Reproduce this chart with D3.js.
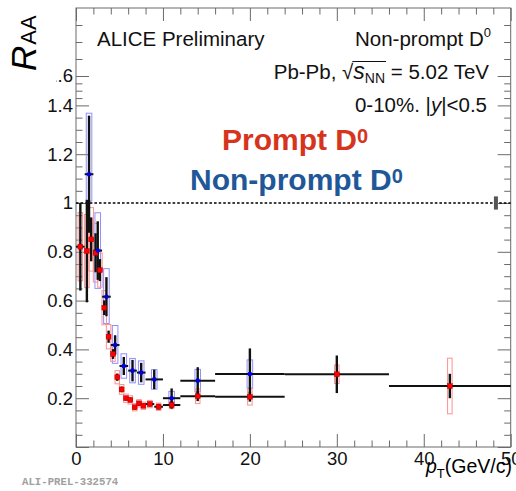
<!DOCTYPE html>
<html>
<head>
<meta charset="utf-8">
<script src="https://cdn.jsdelivr.net/npm/d3@7"></script>
<style>
  html, body { margin: 0; padding: 0; background: #fff; }
  svg { display: block; font-family: "Liberation Sans", Arial, Helvetica, sans-serif; }
</style>
</head>
<body>
<svg id="chart" width="516" height="491"></svg>
<script>
// ---- Prompt D0 R_AA (0-10%) ----
const promptPt     = [0.5, 1.25, 1.75, 2.25, 2.75, 3.25, 3.75, 4.25, 4.75, 5.25, 5.75, 6.25, 6.75, 7.25, 7.75, 8.5, 9.5, 11, 14, 20, 30, 43];
const promptPtLow  = [0, 1, 1.5, 2, 2.5, 3, 3.5, 4, 4.5, 5, 5.5, 6, 6.5, 7, 7.5, 8, 9, 10, 12, 16, 24, 36];
const promptPtHigh = [1, 1.5, 2, 2.5, 3, 3.5, 4, 4.5, 5, 5.5, 6, 6.5, 7, 7.5, 8, 9, 10, 12, 16, 24, 36, 50];
const promptRaa    = [0.821, 0.803, 0.851, 0.796, 0.725, 0.571, 0.452, 0.381, 0.286, 0.236, 0.200, 0.193, 0.163, 0.179, 0.169, 0.176, 0.165, 0.172, 0.208, 0.206, 0.298, 0.250];
const promptStat   = [0.18, 0.21, 0.09, 0.08, 0.045, 0.03, 0.025, 0.02, 0.015, 0.012, 0.01, 0.01, 0.01, 0.01, 0.01, 0.01, 0.012, 0.015, 0.02, 0.02, 0.077, 0.05];
const promptSyst   = [0.14, 0.15, 0.13, 0.12, 0.07, 0.07, 0.05, 0.03, 0.027, 0.02, 0.017, 0.017, 0.015, 0.015, 0.015, 0.015, 0.015, 0.015, 0.03, 0.034, 0.038, 0.114];

// ---- Non-prompt D0 R_AA (0-10%) ----
const nonpromptPt       = [1.5, 2.5, 3.5, 4.5, 5.5, 6.5, 7.5, 9, 11, 14, 20];
const nonpromptPtLow    = [1, 2, 3, 4, 5, 6, 7, 8, 10, 12, 16];
const nonpromptPtHigh   = [2, 3, 4, 5, 6, 7, 8, 10, 12, 16, 24];
const nonpromptRaa      = [1.118, 0.805, 0.616, 0.418, 0.332, 0.313, 0.305, 0.277, 0.200, 0.272, 0.299];
const nonpromptStat     = [0.24, 0.12, 0.08, 0.04, 0.037, 0.044, 0.04, 0.04, 0.04, 0.055, 0.105];
const nonpromptSystHigh = [0.25, 0.155, 0.115, 0.08, 0.05, 0.05, 0.048, 0.04, 0.028, 0.046, 0.058];
const nonpromptSystLow  = [0.11, 0.155, 0.11, 0.075, 0.05, 0.05, 0.048, 0.04, 0.028, 0.046, 0.058];

// global normalisation uncertainty drawn at R_AA = 1
const normPt  = 48.3;
const normUnc = 0.027;

// axis ticks
const xTickValues  = [0, 10, 20, 30, 40, 50];
const xMinorValues = [2, 4, 6, 8, 12, 14, 16, 18, 22, 24, 26, 28, 32, 34, 36, 38, 42, 44, 46, 48];
const yTickValues  = [0, 0.2, 0.4, 0.6, 0.8, 1.0, 1.2, 1.4, 1.6];
const yTickLabels  = ["", "0.2", "0.4", "0.6", "0.8", "1", "1.2", "1.4", "1.6"];
const yMinorValues = [0.05, 0.1, 0.15, 0.25, 0.3, 0.35, 0.45, 0.5, 0.55, 0.65, 0.7, 0.75, 0.85, 0.9, 0.95,
                      1.05, 1.1, 1.15, 1.25, 1.3, 1.35, 1.45, 1.5, 1.55, 1.65, 1.7, 1.75];

// ---- drawing ----
const svg = d3.select("#chart");
const frameLeft = 76, frameRight = 510.7, frameTop = 8, frameBottom = 447;

const x = d3.scaleLinear().domain([0, 50]).range([frameLeft, frameRight]);
// the upper part of the frame (above 1.4) is compressed
const y = d3.scaleLinear().domain([0, 1.4, 1.6, 1.8]).range([frameBottom, 105.4, 76, frameTop]);

const axisColor = "#6a6a6a";
const majorLen = 13, minorLen = 6.5;

function styleAxis(g) {
  g.select(".domain").remove();
  g.selectAll(".tick line").attr("stroke", axisColor).attr("stroke-width", 1);
  g.selectAll(".tick text").attr("fill", "#111").attr("font-size", 18.5)
    .attr("font-family", '"Liberation Sans", Arial, sans-serif');
}

// left axis (labels) and right axis
svg.append("g").attr("transform", `translate(${frameLeft},0)`)
  .call(d3.axisLeft(y).tickValues(yTickValues).tickSize(-majorLen).tickPadding(3)
        .tickFormat((d, i) => yTickLabels[i])).call(styleAxis);
svg.append("g").attr("transform", `translate(${frameLeft},0)`)
  .call(d3.axisLeft(y).tickValues(yMinorValues).tickSize(-minorLen).tickFormat("")).call(styleAxis);
svg.append("g").attr("transform", `translate(${frameRight},0)`)
  .call(d3.axisRight(y).tickValues(yTickValues).tickSize(-majorLen).tickFormat("")).call(styleAxis);
svg.append("g").attr("transform", `translate(${frameRight},0)`)
  .call(d3.axisRight(y).tickValues(yMinorValues).tickSize(-minorLen).tickFormat("")).call(styleAxis);

// bottom and top axes
svg.append("g").attr("transform", `translate(0,${frameBottom})`)
  .call(d3.axisBottom(x).tickValues(xTickValues).tickSize(-majorLen).tickPadding(5)
        .tickFormat(d3.format("d"))).call(styleAxis);
svg.append("g").attr("transform", `translate(0,${frameBottom})`)
  .call(d3.axisBottom(x).tickValues(xMinorValues).tickSize(-minorLen).tickFormat("")).call(styleAxis);
svg.append("g").attr("transform", `translate(0,${frameTop})`)
  .call(d3.axisTop(x).tickValues(xTickValues).tickSize(-majorLen).tickFormat("")).call(styleAxis);
svg.append("g").attr("transform", `translate(0,${frameTop})`)
  .call(d3.axisTop(x).tickValues(xMinorValues).tickSize(-minorLen).tickFormat("")).call(styleAxis);

// frame
svg.append("rect").attr("x", frameLeft).attr("y", frameTop)
  .attr("width", frameRight - frameLeft).attr("height", frameBottom - frameTop)
  .attr("fill", "none").attr("stroke", axisColor).attr("stroke-width", 1);

// reference line at unity
svg.append("line")
  .attr("x1", x(0)).attr("x2", x(50)).attr("y1", y(1)).attr("y2", y(1))
  .attr("stroke", "#000").attr("stroke-width", 1.4).attr("stroke-dasharray", "2.6,2");

// normalisation box
svg.append("rect")
  .attr("x", x(normPt) - 2).attr("width", 4)
  .attr("y", y(1 + normUnc)).attr("height", y(1 - normUnc) - y(1 + normUnc))
  .attr("fill", "#555");

// ---- data series ----
const prompt = promptPt.map((pt, i) => ({
  pt, lo: promptPtLow[i], hi: promptPtHigh[i], v: promptRaa[i],
  stat: promptStat[i], sHi: promptSyst[i], sLo: promptSyst[i]
}));
const nonprompt = nonpromptPt.map((pt, i) => ({
  pt, lo: nonpromptPtLow[i], hi: nonpromptPtHigh[i], v: nonpromptRaa[i],
  stat: nonpromptStat[i], sHi: nonpromptSystHigh[i], sLo: nonpromptSystLow[i]
}));

const boxHalfPrompt = 0.26, boxHalfNonprompt = 0.32;

function drawBoxes(data, half, color) {
  svg.append("g").selectAll("rect").data(data).join("rect")
    .attr("x", d => x(d.pt - half)).attr("width", d => x(d.pt + half) - x(d.pt - half))
    .attr("y", d => y(d.v + d.sHi)).attr("height", d => y(d.v - d.sLo) - y(d.v + d.sHi))
    .attr("fill", "none").attr("stroke", color).attr("stroke-width", 1);
}
function drawBars(data) {
  const g = svg.append("g");
  g.selectAll("line.v").data(data).join("line").attr("class", "v")
    .attr("x1", d => x(d.pt)).attr("x2", d => x(d.pt))
    .attr("y1", d => y(d.v + d.stat)).attr("y2", d => y(d.v - d.stat))
    .attr("stroke", "#111").attr("stroke-width", 2.4);
  g.selectAll("line.h").data(data).join("line").attr("class", "h")
    .attr("x1", d => x(d.lo)).attr("x2", d => x(d.hi))
    .attr("y1", d => y(d.v)).attr("y2", d => y(d.v))
    .attr("stroke", "#111").attr("stroke-width", 2);
}

drawBoxes(nonprompt, boxHalfNonprompt, "#8f8fff");
drawBoxes(prompt, boxHalfPrompt, "#ff9090");
drawBars(nonprompt);
drawBars(prompt);

// markers
svg.append("g").selectAll("rect").data(prompt).join("rect")
  .attr("x", d => x(d.pt) - 2.4).attr("y", d => y(d.v) - 2.4)
  .attr("width", 4.8).attr("height", 4.8)
  .attr("fill", "#ff0000").attr("stroke", "#b00000").attr("stroke-width", 0.5);
svg.append("g").selectAll("circle").data(nonprompt).join("circle")
  .attr("cx", d => x(d.pt)).attr("cy", d => y(d.v)).attr("r", 2.3)
  .attr("fill", "#0000dd");

// ---- y title ----
svg.append("rect").attr("x", 0).attr("y", 22).attr("width", 56.5).attr("height", 66).attr("fill", "#fff");
const yTitle = svg.append("text")
  .attr("transform", "translate(36,71) rotate(-90)")
  .attr("fill", "#000");
yTitle.append("tspan").attr("font-size", 35).attr("font-style", "italic").text("R");
yTitle.append("tspan").attr("font-size", 22).attr("dx", 1).text("AA");

// ---- x title ----
const xTitle = svg.append("text").attr("x", 512).attr("y", 473)
  .attr("text-anchor", "end").attr("font-size", 19.5).attr("fill", "#000");
xTitle.append("tspan").attr("font-style", "italic").text("p");
xTitle.append("tspan").attr("font-size", 13).attr("dy", 5).text("T");
xTitle.append("tspan").attr("dy", -5).text("(GeV/c)");

// ---- labels ----
svg.append("text").attr("x", 97).attr("y", 46).attr("font-size", 20.5).attr("fill", "#111")
  .text("ALICE Preliminary");

const np = svg.append("text").attr("x", 491).attr("y", 46).attr("text-anchor", "end")
  .attr("font-size", 20.5).attr("fill", "#111");
np.append("tspan").text("Non-prompt D");
np.append("tspan").attr("font-size", 13).attr("dy", -9).text("0");

const sys = svg.append("text").attr("x", 489).attr("y", 79).attr("text-anchor", "end")
  .attr("font-size", 20.5).attr("fill", "#111");
sys.append("tspan").text("Pb-Pb, \u221A");
sys.append("tspan").attr("font-style", "italic").attr("font-size", 23).text("s");
sys.append("tspan").attr("font-size", 14).attr("dy", 4).text("NN");
sys.append("tspan").attr("dy", -4).text(" = 5.02 TeV");
// overline of the square root
{
  const node = sys.node();
  const r = node.getExtentOfChar(7), e = node.getExtentOfChar(10);
  svg.append("line")
    .attr("x1", r.x + r.width - 1).attr("x2", e.x + e.width + 1)
    .attr("y1", 61.5).attr("y2", 61.5)
    .attr("stroke", "#111").attr("stroke-width", 1.1);
}

const cen = svg.append("text").attr("x", 487).attr("y", 112).attr("text-anchor", "end")
  .attr("font-size", 20.5).attr("fill", "#111");
cen.append("tspan").text("0-10%. |");
cen.append("tspan").attr("font-style", "italic").text("y");
cen.append("tspan").text("|<0.5");

const lp = svg.append("text").attr("x", 222).attr("y", 150).attr("font-size", 30)
  .attr("font-weight", "bold").attr("fill", "#d6341c");
lp.append("tspan").text("Prompt D");
lp.append("tspan").attr("font-size", 20).attr("dy", -7).text("0");

const ln = svg.append("text").attr("x", 190).attr("y", 190).attr("font-size", 30)
  .attr("font-weight", "bold").attr("fill", "#1f5898");
ln.append("tspan").text("Non-prompt D");
ln.append("tspan").attr("font-size", 20).attr("dy", -7).text("0");

svg.append("text").attr("x", 22).attr("y", 485)
  .attr("font-family", '"Liberation Mono", "DejaVu Sans Mono", monospace')
  .attr("font-size", 10.7).attr("font-weight", "bold").attr("fill", "#a0a0a0")
  .text("ALI-PREL-332574");
</script>
</body>
</html>
